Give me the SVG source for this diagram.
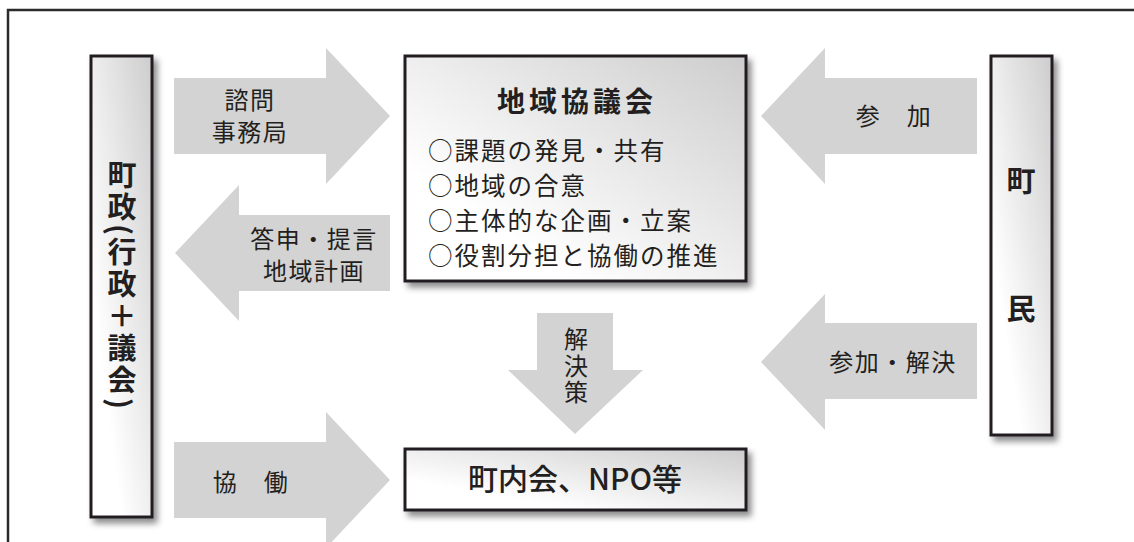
<svg xmlns="http://www.w3.org/2000/svg" width="1134" height="542" viewBox="0 0 1134 542">
<defs>
<linearGradient id="g" x1="1" y1="0" x2="0" y2="1">
<stop offset="0" stop-color="#cdcdcd"/>
<stop offset="0.75" stop-color="#ffffff"/>
<stop offset="1" stop-color="#ffffff"/>
</linearGradient>
<filter id="sh" x="-20%" y="-20%" width="150%" height="150%">
<feDropShadow dx="4" dy="5" stdDeviation="3" flood-color="#000" flood-opacity="0.45"/>
</filter>
</defs>
<style>
.node{fill:url(#g);stroke:#231f20;stroke-width:3;filter:url(#sh)}
.arr{fill:#d3d3d3;stroke:none}
.t{font-family:"Noto Sans CJK JP","Noto Sans",sans-serif;fill:#231f20}
.lab{font-size:24px;letter-spacing:1.5px;text-anchor:middle}
.item{font-size:24.5px;letter-spacing:2px}
.big{font-size:29px;font-weight:bold}
</style>
<rect width="1134" height="542" fill="#ffffff"/>
<rect x="8" y="10" width="1150" height="560" fill="none" stroke="#2b2b2b" stroke-width="2.5"/>

<g id="connectors">
<polygon class="arr" points="174,78 326,78 326,48 390,116 326,184 326,154 174,154"/>
<polygon class="arr" points="390,215 239,215 239,185 175,253 239,321 239,291 390,291"/>
<polygon class="arr" points="174,442 326,442 326,412 390,480 326,548 326,518 174,518"/>
<polygon class="arr" points="537,313 613,313 613,370 643,370 575,434 508,370 537,370"/>
<polygon class="arr" points="977,78 825,78 825,48 761,116 825,184 825,154 977,154"/>
<polygon class="arr" points="977,323 825,323 825,294 761,362 825,430 825,399 977,399"/>
<text class="t lab" x="250" y="109">諮問</text>
<text class="t lab" x="250" y="141">事務局</text>
<text class="t lab" x="314" y="248">答申・提言</text>
<text class="t lab" x="314" y="280">地域計画</text>
<text class="t lab" x="251" y="491">協　働</text>
<text class="t lab" x="894" y="125">参　加</text>
<text class="t lab" x="893" y="371">参加・解決</text>
<text class="t" x="576" y="327" style="font-size:24px;writing-mode:vertical-rl;letter-spacing:2.5px">解決策</text>
</g>

<g id="node-chosei">
<rect class="node" x="91" y="56" width="61" height="461"/>
<text class="t big" x="122" y="160" style="writing-mode:vertical-rl;letter-spacing:3px">町政(行政＋議会)</text>
</g>

<g id="node-kyogikai">
<rect class="node" x="405" y="56" width="341" height="225"/>
<text class="t" x="577" y="112" style="font-size:28px;font-weight:bold;letter-spacing:4px;text-anchor:middle">地域協議会</text>
<text class="t item" x="428" y="160">○課題の発見・共有</text>
<text class="t item" x="428" y="195">○地域の合意</text>
<text class="t item" x="428" y="230">○主体的な企画・立案</text>
<text class="t item" x="428" y="265">○役割分担と協働の推進</text>
</g>

<g id="node-chonaikai">
<rect class="node" x="405" y="449" width="341" height="61"/>
<text class="t" x="575" y="490" style="font-size:30px;font-weight:500;text-anchor:middle">町内会、NPO等</text>
</g>

<g id="node-chomin">
<rect class="node" x="991" y="56" width="61" height="379"/>
<text class="t big" x="1021" y="192" style="text-anchor:middle"><tspan x="1021" y="192">町</tspan><tspan x="1021" y="320">民</tspan></text>
</g>
</svg>
